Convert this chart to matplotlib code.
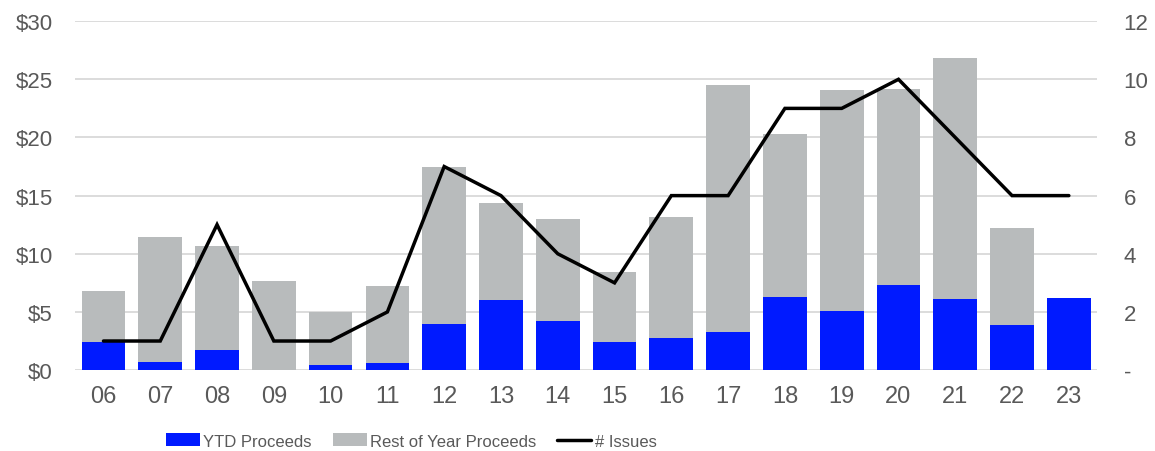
import matplotlib.pyplot as plt
import numpy as np

plt.rcParams['font.family'] = ['Liberation Sans', 'DejaVu Sans']

# ---- data ----
years = ['06', '07', '08', '09', '10', '11', '12', '13', '14', '15',
         '16', '17', '18', '19', '20', '21', '22', '23']
ytd = [2.4, 0.7, 1.7, 0.0, 0.4, 0.6, 4.0, 6.0, 4.2, 2.4,
       2.8, 3.3, 6.3, 5.1, 7.3, 6.1, 3.9, 6.2]
full_year = [6.8, 11.4, 10.7, 7.7, 5.0, 7.2, 17.5, 14.4, 13.0, 8.4,
             13.2, 24.5, 20.3, 24.1, 24.2, 26.8, 12.2, 6.2]
rest = [f - y for f, y in zip(full_year, ytd)]
issues = [1, 1, 5, 1, 1, 2, 7, 6, 4, 3, 6, 6, 9, 9, 10, 8, 6, 6]

BLUE = '#001AFF'
GRAY = '#B8BBBC'
TICK = '#595959'
GRID = '#D9D9D9'

fig = plt.figure(figsize=(11.55, 4.52), dpi=100)
ax = fig.add_axes([0.065, 0.179, 0.885, 0.772])
x = np.arange(len(years))

ax.bar(x, ytd, width=0.77, color=BLUE, label='YTD Proceeds', zorder=2)
ax.bar(x, rest, width=0.77, bottom=ytd, color=GRAY,
       label='Rest of Year Proceeds', zorder=2)

ax.set_ylim(0, 30)
ax.set_yticks(range(0, 31, 5))
ax.set_yticklabels([f'${v}' for v in range(0, 31, 5)])
ax.set_xlim(-0.5, len(years) - 0.5)
ax.set_xticks(x)
ax.set_xticklabels(years)
ax.yaxis.grid(True, color=GRID, linewidth=1.3, zorder=0)
ax.set_axisbelow(True)
for s in ax.spines.values():
    s.set_visible(False)
ax.tick_params(axis='y', length=0, labelsize=16, labelcolor=TICK, pad=16)
ax.tick_params(axis='x', length=0, labelsize=17, labelcolor=TICK, pad=11)

ax2 = ax.twinx()
ax2.plot(x, issues, color='black', linewidth=2.5, solid_capstyle='round',
         solid_joinstyle='miter', label='# Issues', zorder=3)
ax2.set_ylim(0, 12)
ax2.set_yticks(range(0, 13, 2))
ax2.set_yticklabels(['-'] + [str(v) for v in range(2, 13, 2)])
for s in ax2.spines.values():
    s.set_visible(False)
ax2.tick_params(length=0, labelsize=16, labelcolor=TICK, pad=19)

h1, l1 = ax.get_legend_handles_labels()
h2, l2 = ax2.get_legend_handles_labels()
fig.legend(h1 + h2, l1 + l2, loc='center', bbox_to_anchor=(0.356, 0.022),
           ncol=3, frameon=False, fontsize=12, labelcolor=TICK,
           handlelength=2.05, handleheight=0.8, handletextpad=0.2,
           columnspacing=1.25, borderpad=0, borderaxespad=0)

fig.savefig('out.png', dpi=100)
